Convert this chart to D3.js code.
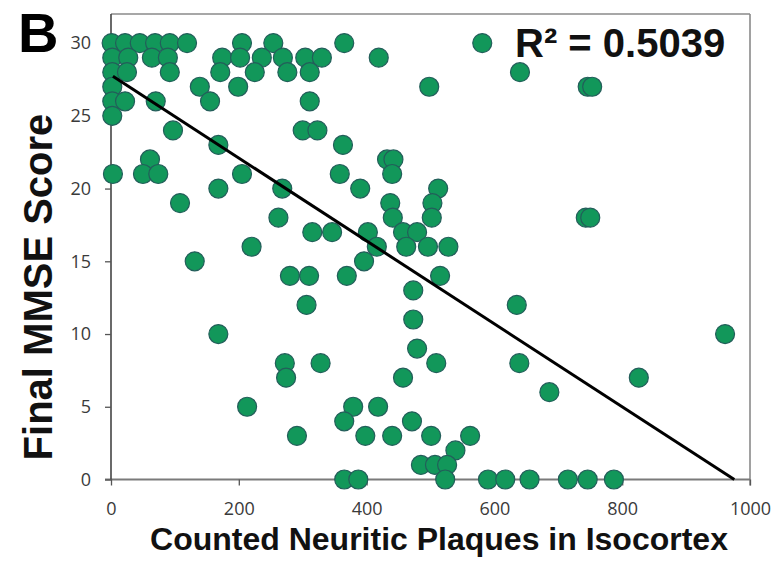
<!DOCTYPE html>
<html>
<head>
<meta charset="utf-8">
<script src="https://cdn.jsdelivr.net/npm/d3@7"></script>
<style>
  html, body { margin: 0; padding: 0; background: #ffffff; }
  svg { display: block; }
</style>
</head>
<body>
<svg id="chart" width="773" height="561"></svg>
<script>
// Neuritic plaque counts (isocortex) and final MMSE score, one entry per case
const plaqueCounts = [
  1, 22, 45, 69, 92, 119, 205, 254, 365, 581,
  2, 27, 64, 89, 174, 202, 236, 269, 304, 330, 419,
  2, 25, 92, 171, 225, 276, 311, 640,
  2, 139, 199, 498, 746, 753,
  2, 22, 70, 155, 311,
  2,
  97, 300, 323,
  168, 363,
  61, 432, 442,
  3, 50, 74, 205, 358, 440,
  168, 268, 390, 512,
  108, 437, 503,
  262, 441, 502, 743, 750,
  315, 346, 402, 457, 479,
  220, 416, 462, 496, 528,
  131, 396,
  280, 310, 369, 515,
  473,
  306, 635,
  473,
  168, 961,
  479,
  272, 328, 509, 639,
  274, 457, 826,
  686,
  213, 379, 418,
  365, 471,
  291, 398, 440, 501, 562,
  539,
  485, 507, 526,
  365, 387, 523, 590, 617, 655, 715, 746, 787
];
const mmseScores = [
  30, 30, 30, 30, 30, 30, 30, 30, 30, 30,
  29, 29, 29, 29, 29, 29, 29, 29, 29, 29, 29,
  28, 28, 28, 28, 28, 28, 28, 28,
  27, 27, 27, 27, 27, 27,
  26, 26, 26, 26, 26,
  25,
  24, 24, 24,
  23, 23,
  22, 22, 22,
  21, 21, 21, 21, 21, 21,
  20, 20, 20, 20,
  19, 19, 19,
  18, 18, 18, 18, 18,
  17, 17, 17, 17, 17,
  16, 16, 16, 16, 16,
  15, 15,
  14, 14, 14, 14,
  13,
  12, 12,
  11,
  10, 10,
  9,
  8, 8, 8, 8,
  7, 7, 7,
  6,
  5, 5, 5,
  4, 4,
  3, 3, 3, 3, 3,
  2,
  1, 1, 1,
  0, 0, 0, 0, 0, 0, 0, 0, 0
];

const xTicks = [0, 200, 400, 600, 800, 1000];
const yTicks = [0, 5, 10, 15, 20, 25, 30];

// Linear trend line: MMSE = intercept + slope * plaques
const trendIntercept = 27.8;
const trendSlope = -0.0285;
const rSquaredLabel = "R\u00B2 = 0.5039";

const panelLabel = "B";
const xTitle = "Counted Neuritic Plaques in Isocortex";
const yTitle = "Final MMSE Score";

const svg = d3.select("#chart");

const x = d3.scaleLinear().domain([0, 1000]).range([111, 750]);
const y = d3.scaleLinear().domain([0, 32]).range([479.5, 14]);

const tickFont = "'Open Sans', 'Liberation Sans', sans-serif";
const boldFont = "'Liberation Sans', Arial, Helvetica, sans-serif";

// Plot frame (top and right edges)
const frame = svg.append("g");
frame.append("line")
  .attr("x1", x(0)).attr("x2", x(1000))
  .attr("y1", y(32)).attr("y2", y(32))
  .attr("stroke", "#8a8a8a").attr("stroke-width", 1.6);
frame.append("line")
  .attr("x1", x(1000)).attr("x2", x(1000))
  .attr("y1", y(32)).attr("y2", y(0) + 6)
  .attr("stroke", "#8a8a8a").attr("stroke-width", 1.6);

// Bottom axis
const xAxis = svg.append("g")
  .attr("transform", `translate(0,${y(0)})`)
  .call(d3.axisBottom(x).tickValues(xTicks).tickFormat(d3.format("d"))
    .tickSize(6).tickPadding(17).tickSizeOuter(0));
xAxis.select(".domain").attr("stroke", "#7a7a7a").attr("stroke-width", 2)
  .attr("d", `M${x(0) - 6},0H${x(1000)}`);
xAxis.selectAll(".tick line").attr("stroke", "#555").attr("stroke-width", 1.3);
xAxis.selectAll(".tick text")
  .attr("fill", "#3a3a3a")
  .style("font-family", tickFont)
  .style("font-size", "18px");

// Left axis
const yAxis = svg.append("g")
  .attr("transform", `translate(${x(0)},0)`)
  .call(d3.axisLeft(y).tickValues(yTicks).tickFormat(d3.format("d"))
    .tickSize(6).tickPadding(14).tickSizeOuter(0));
yAxis.select(".domain").attr("stroke", "#444").attr("stroke-width", 1.6)
  .attr("d", `M0,${y(32)}V${y(0)}`);
yAxis.selectAll(".tick line").attr("stroke", "#555").attr("stroke-width", 1.3);
yAxis.selectAll(".tick text")
  .attr("fill", "#3a3a3a")
  .style("font-family", tickFont)
  .style("font-size", "18px");

// Data points
const cases = plaqueCounts.map((p, i) => ({ plaques: p, mmse: mmseScores[i] }));
svg.append("g")
  .selectAll("circle")
  .data(cases)
  .join("circle")
  .attr("cx", d => x(d.plaques))
  .attr("cy", d => y(d.mmse))
  .attr("r", 9.5)
  .attr("fill", "#12975a")
  .attr("stroke", "#235e5a")
  .attr("stroke-width", 1.2);

// Trend line, from the y-intercept down to where the fit reaches zero
const xEnd = -trendIntercept / trendSlope;
svg.append("line")
  .attr("x1", x(3)).attr("y1", y(trendIntercept + trendSlope * 3))
  .attr("x2", x(xEnd)).attr("y2", y(0))
  .attr("stroke", "#000").attr("stroke-width", 3);

// R-squared annotation
svg.append("text")
  .attr("x", 515).attr("y", 57)
  .attr("fill", "#111")
  .style("font-family", boldFont)
  .style("font-weight", "bold")
  .style("font-size", "40px")
  .text(rSquaredLabel);

// Panel letter
svg.append("text")
  .attr("x", 18).attr("y", 52)
  .attr("fill", "#000")
  .style("font-family", boldFont)
  .style("font-weight", "bold")
  .style("font-size", "56px")
  .text(panelLabel);

// Axis titles
svg.append("text")
  .attr("x", 439).attr("y", 550)
  .attr("text-anchor", "middle")
  .attr("fill", "#111")
  .style("font-family", boldFont)
  .style("font-weight", "bold")
  .style("font-size", "32px")
  .text(xTitle);

svg.append("text")
  .attr("transform", "translate(52,287) rotate(-90)")
  .attr("text-anchor", "middle")
  .attr("fill", "#111")
  .style("font-family", boldFont)
  .style("font-weight", "bold")
  .style("font-size", "40px")
  .text(yTitle);
</script>
</body>
</html>
